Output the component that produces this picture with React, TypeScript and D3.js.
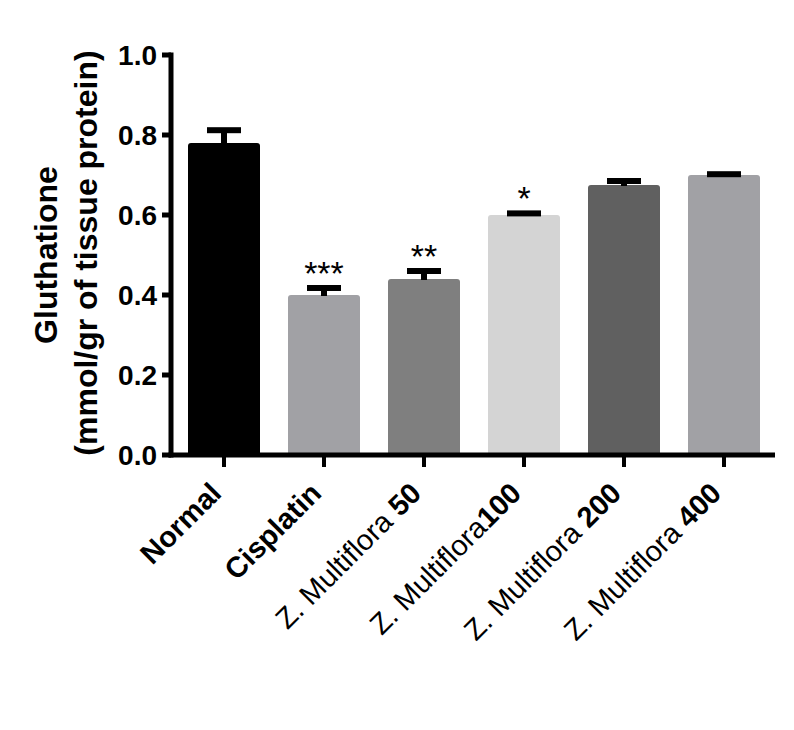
import React from "react";
import * as d3 from "d3";

const width = 794;
const height = 730;
const margin = { top: 55, right: 19, bottom: 275, left: 171 };

// group names, label parts and values
const groups = ["Normal", "Cisplatin", "Z50", "Z100", "Z200", "Z400"];
const labelPlain = ["", "", "Z. Multiflora ", "Z. Multiflora", "Z. Multiflora ", "Z. Multiflora "];
const labelBold = ["Normal", "Cisplatin", "50", "100", "200", "400"];
const means = [0.78, 0.4, 0.44, 0.6, 0.675, 0.7];
const errors = [0.032, 0.0175, 0.02, 0.004, 0.01, 0.002];
const stars = ["", "***", "**", "*", "", ""];
const colors = ["#000000", "#a1a1a5", "#7f7f7f", "#d4d4d4", "#606060", "#a1a1a5"];
const yTicks = [0, 0.2, 0.4, 0.6, 0.8, 1.0];

const font = "'Liberation Sans', Arial, sans-serif";

const App = () => {
  const x0 = margin.left;
  const y0 = height - margin.bottom; // 455

  const xScale = d3
    .scaleBand<string>()
    .domain(groups)
    .range([x0 + 3, width - margin.right - 1])
    .paddingInner(0.28)
    .paddingOuter(0.14);

  const yScale = d3.scaleLinear().domain([0, 1]).range([y0, margin.top]);

  const bw = xScale.bandwidth();
  const capW = 34;
  const thick = 6;

  return (
    <svg
      width={width}
      height={height}
      style={{ position: "absolute", left: 0, top: 0, background: "#fff" }}
      fontFamily={font}
    >
      {/* bars */}
      {groups.map((g, i) => {
        const x = xScale(g)!;
        const top = yScale(means[i]);
        const r = 3;
        const d = `M${x},${y0} V${top + r} Q${x},${top} ${x + r},${top} H${x + bw - r} Q${x + bw},${top} ${x + bw},${top + r} V${y0} Z`;
        return <path key={g} d={d} fill={colors[i]} />;
      })}

      {/* error bars, upper side only */}
      {groups.map((g, i) => {
        const cx = xScale(g)! + bw / 2;
        const top = yScale(means[i]);
        const eTop = yScale(means[i] + errors[i]);
        return (
          <g key={g} fill="#000">
            <rect x={cx - thick / 2} y={eTop} width={thick} height={top - eTop + 1} />
            <rect x={cx - capW / 2} y={eTop - thick / 2} width={capW} height={thick} />
          </g>
        );
      })}

      {/* significance marks */}
      {groups.map((g, i) =>
        stars[i] ? (
          <text
            key={g}
            x={xScale(g)! + bw / 2}
            y={yScale(means[i] + errors[i]) - 3}
            textAnchor="middle"
            fontSize={34}
          >
            {stars[i]}
          </text>
        ) : null
      )}

      {/* y axis */}
      <line x1={x0} x2={x0} y1={y0 + 2.5} y2={yScale(1) - 2.5} stroke="#000" strokeWidth={5} />
      {yTicks.map((t) => (
        <g key={t}>
          <line x1={x0 - 9} x2={x0} y1={yScale(t)} y2={yScale(t)} stroke="#000" strokeWidth={5} />
          <text
            x={x0 - 14}
            y={yScale(t)}
            dy="0.36em"
            textAnchor="end"
            fontSize={28}
            fontWeight="bold"
          >
            {d3.format(".1f")(t)}
          </text>
        </g>
      ))}

      {/* x axis */}
      <line x1={x0 - 2.5} x2={width - margin.right} y1={y0} y2={y0} stroke="#000" strokeWidth={5} />
      {groups.map((g, i) => {
        const cx = xScale(g)! + bw / 2;
        return (
          <g key={g}>
            <line x1={cx} x2={cx} y1={y0} y2={y0 + 12} stroke="#000" strokeWidth={4} />
            <text
              transform={`translate(${cx - 1},${y0 + 40}) rotate(-45)`}
              textAnchor="end"
              fontSize={29}
            >
              {labelPlain[i] && <tspan>{labelPlain[i]}</tspan>}
              <tspan fontWeight="bold">{labelBold[i]}</tspan>
            </text>
          </g>
        );
      })}

      {/* y axis title */}
      <text
        transform={`translate(57,${(y0 + margin.top) / 2}) rotate(-90)`}
        textAnchor="middle"
        fontSize={32}
        fontWeight="bold"
      >
        Gluthatione
      </text>
      <text
        transform={`translate(97,${(y0 + margin.top) / 2 - 2}) rotate(-90)`}
        textAnchor="middle"
        fontSize={32}
        fontWeight="bold"
      >
        (mmol/gr of tissue protein)
      </text>
    </svg>
  );
};

export default App;
